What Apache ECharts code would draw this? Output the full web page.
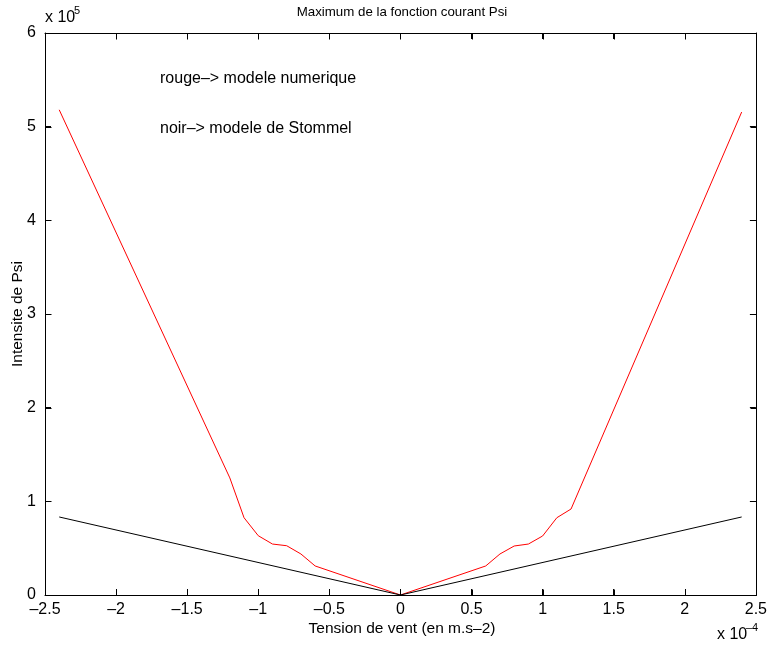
<!DOCTYPE html>
<html>
<head>
<meta charset="utf-8">
<script src="https://cdn.jsdelivr.net/npm/echarts@6/dist/echarts.min.js"></script>
<style>
html,body{margin:0;padding:0;background:#fff;}
#chart{width:770px;height:646px;}
</style>
</head>
<body>
<div id="chart"></div>
<script>
// x values in units of 1e-4, y values in units of 1e5
const redX = [-2.4, -1.2, -1.1, -1.0, -0.9, -0.8, -0.7, -0.6, 0, 0.6, 0.7, 0.8, 0.9, 1.0, 1.1, 1.2, 2.4];
const redY = [5.18, 1.25, 0.825, 0.633, 0.544, 0.526, 0.438, 0.31, 0, 0.31, 0.438, 0.523, 0.544, 0.63, 0.825, 0.918, 5.156];
const blackX = [-2.4, 0, 2.4];
const blackY = [0.833, 0, 0.833];
const xTicks = [-2.5, -2, -1.5, -1, -0.5, 0, 0.5, 1, 1.5, 2, 2.5];
const yTicks = [0, 1, 2, 3, 4, 5, 6];

const FONT = 'Liberation Sans, Arial, Helvetica, sans-serif';
const fmt = v => String(v).replace('-', '\u2013');
const X_MIN = xTicks[0], X_MAX = xTicks[xTicks.length - 1];
const Y_MIN = yTicks[0], Y_MAX = yTicks[yTicks.length - 1];

const chart = echarts.init(document.getElementById('chart'), null, {renderer: 'canvas'});
const mkLine = () => ({show: true, onZero: false, lineStyle: {color: '#000', width: 1}});
const mkTick = () => ({show: true, inside: true, length: 6, lineStyle: {color: '#000'}});

const textEls = [
  {id: 't_title', type: 'text', x: 402, y: 12, style: {text: 'Maximum de la fonction courant Psi', font: '13.3px ' + FONT, fill: '#000', align: 'center', verticalAlign: 'middle'}},
  {id: 't_xname', type: 'text', x: 402, y: 629, style: {text: 'Tension de vent (en m.s\u20132)', font: '15.5px ' + FONT, fill: '#000', align: 'center', verticalAlign: 'middle'}},
  {id: 't_yname', type: 'text', x: 18, y: 314, rotation: Math.PI / 2, style: {text: 'Intensite de Psi', font: '15.5px ' + FONT, fill: '#000', align: 'center', verticalAlign: 'middle'}},
  {id: 't_a1', type: 'text', left: 160, top: 71, style: {text: 'rouge\u2013> modele numerique', font: '16px ' + FONT, fill: '#000'}},
  {id: 't_a2', type: 'text', left: 160, top: 121, style: {text: 'noir\u2013> modele de Stommel', font: '16px ' + FONT, fill: '#000'}},
  {id: 't_e5', type: 'text', left: 45, top: 10, style: {text: 'x 10', font: '16px ' + FONT, fill: '#000'}},
  {id: 't_e5s', type: 'text', left: 74, top: 5, style: {text: '5', font: '11px ' + FONT, fill: '#000'}},
  {id: 't_e4', type: 'text', left: 717, top: 627, style: {text: 'x 10', font: '16px ' + FONT, fill: '#000'}},
  {id: 't_e4s', type: 'text', left: 746, top: 622, style: {text: '\u20134', font: '11px ' + FONT, fill: '#000'}}
];

const option = {
  backgroundColor: '#fff',
  animation: false,
  grid: {left: 45, right: 11, top: 33, bottom: 51, show: false},
  xAxis: [{
    type: 'value', min: X_MIN, max: X_MAX, interval: 0.5,
    position: 'bottom', axisLine: mkLine(), axisTick: mkTick(), splitLine: {show: false},
    axisLabel: {formatter: fmt, fontFamily: FONT, fontSize: 16, color: '#000', margin: 7}
  }, {
    type: 'value', min: X_MIN, max: X_MAX, interval: 0.5,
    position: 'top', axisLine: mkLine(), axisTick: mkTick(), axisLabel: {show: false}, splitLine: {show: false}
  }],
  yAxis: [{
    type: 'value', min: Y_MIN, max: Y_MAX, interval: 1,
    position: 'left', axisLine: mkLine(), axisTick: mkTick(), splitLine: {show: false},
    axisLabel: {formatter: fmt, fontFamily: FONT, fontSize: 16, color: '#000', margin: 9}
  }, {
    type: 'value', min: Y_MIN, max: Y_MAX, interval: 1,
    position: 'right', axisLine: mkLine(), axisTick: mkTick(), axisLabel: {show: false}, splitLine: {show: false}
  }],
  series: [{
    type: 'line', name: 'rouge', data: redX.map((x, i) => [x, redY[i]]),
    showSymbol: false, lineStyle: {color: '#ff0000', width: 1}, itemStyle: {color: '#ff0000'}
  }, {
    type: 'line', name: 'noir', data: blackX.map((x, i) => [x, blackY[i]]),
    showSymbol: false, lineStyle: {color: '#000', width: 1}, itemStyle: {color: '#000'}
  }],
  graphic: textEls
};
chart.setOption(option);

// Frame and inward ticks placed through the chart's own axis scales
const px = (x, y) => chart.convertToPixel({gridIndex: 0}, [x, y]);
const crisp = v => Math.round(v) + 0.5;
const tl = px(X_MIN, Y_MAX), br = px(X_MAX, Y_MIN);
const L = crisp(tl[0]), T = crisp(tl[1]), R = crisp(br[0]), B = crisp(br[1]);
const stroke = {stroke: '#000', lineWidth: 1};
const frameEls = [{id: 'frame', type: 'rect', z: 10, silent: true,
  shape: {x: L, y: T, width: R - L, height: B - T}, style: Object.assign({fill: 'none'}, stroke)}];
xTicks.forEach((v, i) => {
  const x = crisp(px(v, Y_MIN)[0]);
  frameEls.push({id: 'xtb' + i, type: 'line', z: 10, silent: true, shape: {x1: x, y1: B, x2: x, y2: B - 6}, style: stroke});
  frameEls.push({id: 'xtt' + i, type: 'line', z: 10, silent: true, shape: {x1: x, y1: T, x2: x, y2: T + 6}, style: stroke});
});
yTicks.forEach((v, i) => {
  const y = crisp(px(X_MIN, v)[1]);
  frameEls.push({id: 'ytl' + i, type: 'line', z: 10, silent: true, shape: {x1: L, y1: y, x2: L + 6, y2: y}, style: stroke});
  frameEls.push({id: 'ytr' + i, type: 'line', z: 10, silent: true, shape: {x1: R, y1: y, x2: R - 6, y2: y}, style: stroke});
});
chart.setOption({graphic: textEls.concat(frameEls)}, {replaceMerge: ['graphic']});
</script>
</body>
</html>
